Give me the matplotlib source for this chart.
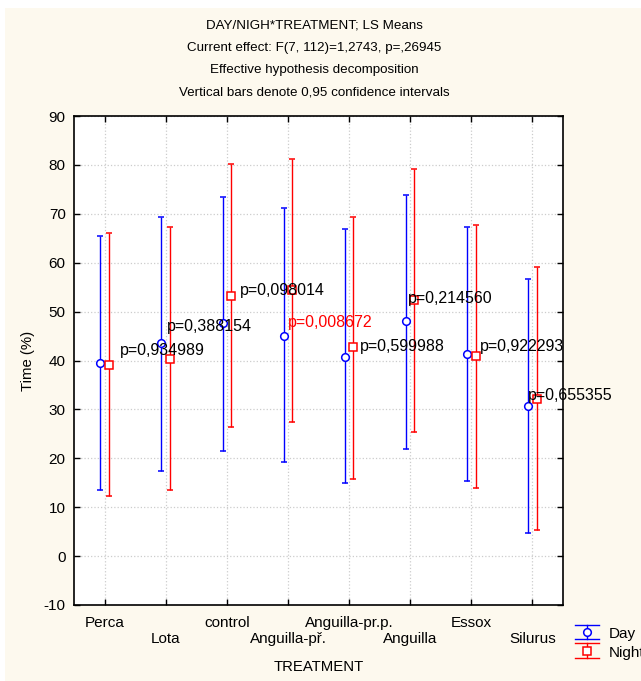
import numpy as np
import matplotlib
matplotlib.use('Agg')
import matplotlib.pyplot as plt
from matplotlib.lines import Line2D
from matplotlib.patches import Rectangle
from matplotlib.legend_handler import HandlerBase

plt.rcParams['font.family'] = ['Liberation Sans', 'DejaVu Sans']
plt.rcParams['axes.unicode_minus'] = False

# LS means and 0.95 confidence limits per treatment
treatments = ['Perca', 'Lota', 'control', 'Anguilla-př.', 'Anguilla-pr.p.',
              'Anguilla', 'Essox', 'Silurus']
day_mean = [39.4, 43.5, 47.6, 45.1, 40.8, 48.1, 41.3, 30.7]
day_low = [13.5, 17.4, 21.5, 19.2, 14.9, 22.0, 15.3, 4.8]
day_high = [65.4, 69.4, 73.5, 71.1, 66.8, 73.9, 67.3, 56.6]
night_mean = [39.1, 40.4, 53.2, 54.4, 42.7, 52.3, 40.9, 32.2]
night_low = [12.3, 13.6, 26.4, 27.5, 15.7, 25.4, 14.0, 5.3]
night_high = [66.0, 67.3, 80.1, 81.2, 69.4, 79.2, 67.8, 59.1]

p_labels = ['p=0,934989', 'p=0,388154', 'p=0,098014', 'p=0,008672',
            'p=0,599988', 'p=0,214560', 'p=0,922293', 'p=0,655355']
p_signif = [False, False, False, True, False, False, False, False]
# where the p labels sit (offset from category, y value)
label_dx = [0.25, 0.02, 0.21, 0.0, 0.17, -0.04, 0.14, -0.08]
label_y = [42.1, 46.9, 54.3, 47.7, 42.8, 52.6, 42.8, 32.8]

cream = '#fdf9ee'
blue = '#0000ff'
red = '#ff0000'

x = np.arange(len(treatments))
dm, dl, dh = np.array(day_mean), np.array(day_low), np.array(day_high)
nm, nl, nh = np.array(night_mean), np.array(night_low), np.array(night_high)

fig = plt.figure(figsize=(6.41, 6.81), dpi=100, facecolor='white')
fig.patches.append(Rectangle((5/641., 0), 1, 1 - 8/681., transform=fig.transFigure,
                             facecolor=cream, edgecolor='none', zorder=-10))

ax = fig.add_axes([74/641., 76/681., 489/641., 489/681.])
ax.set_facecolor('white')

ax.errorbar(x - 0.07, dm, yerr=[dm - dl, dh - dm], fmt='o', color=blue,
            mfc='white', mec=blue, ms=5.5, mew=1.1, elinewidth=1.0,
            capsize=2.2, capthick=1.0, zorder=2)
ax.errorbar(x + 0.07, nm, yerr=[nm - nl, nh - nm], fmt='s', color=red,
            mfc='white', mec=red, ms=5.5, mew=1.1, elinewidth=1.0,
            capsize=2.2, capthick=1.0, zorder=2)

for i in range(len(treatments)):
    ax.text(x[i] + label_dx[i], label_y[i], p_labels[i], fontsize=11.5,
            color=red if p_signif[i] else 'black', ha='left', va='center', zorder=4)

ax.set_xlim(-0.5, len(treatments) - 0.5)
ax.set_ylim(-10, 90)
ax.set_yticks(np.arange(-10, 91, 10))
ax.set_xticks(x)
ax.set_xticklabels([t if i % 2 == 0 else '\n' + t for i, t in enumerate(treatments)])
ax.tick_params(direction='in', top=True, right=True, length=4, width=1,
               labelsize=11, pad=6)
ax.tick_params(axis='x', pad=8)
ax.grid(True, color='#cccccc', linestyle=':', linewidth=0.9)
ax.set_axisbelow(True)
for s in ax.spines.values():
    s.set_linewidth(1.2)

ax.set_xlabel('TREATMENT', fontsize=10.7)
ax.set_ylabel('Time (%)', fontsize=10.7)
ax.xaxis.set_label_coords(0.5, -0.113)
ax.yaxis.set_label_coords(-0.079, 0.5)

fig.text(0.49, 1 - 20/681., 'DAY/NIGH*TREATMENT; LS Means\n'
         'Current effect: F(7, 112)=1,2743, p=,26945\n'
         'Effective hypothesis decomposition\n'
         'Vertical bars denote 0,95 confidence intervals',
         ha='center', va='top', fontsize=9.6, linespacing=2.12,
         transform=fig.transFigure)


class CapHandler(HandlerBase):
    # errorbar-like legend key: wide caps top and bottom, marker in middle
    def create_artists(self, legend, orig, xdescent, ydescent, width, height,
                       fontsize, trans):
        c = orig.get_color()
        y0, y1 = -ydescent - 1, height - ydescent + 2
        xm = width / 2 - xdescent
        arts = [Line2D([-xdescent, width - xdescent], [y1, y1], color=c, lw=1.0),
                Line2D([-xdescent, width - xdescent], [y0, y0], color=c, lw=1.0),
                Line2D([xm, xm], [y0, y1], color=c, lw=1.0),
                Line2D([xm], [(y0 + y1) / 2], marker=orig.get_marker(), color=c,
                       mfc='white', mec=c, ms=5.5, mew=1.1, ls='none')]
        for a in arts:
            a.set_transform(trans)
        return arts


h_day = Line2D([], [], color=blue, marker='o')
h_night = Line2D([], [], color=red, marker='s')
fig.legend([h_day, h_night], ['Day', 'Night'], loc='upper left',
           bbox_to_anchor=(575/641., 1 - 627/681.), frameon=False,
           fontsize=11, handlelength=1.6, handletextpad=0.6, labelspacing=0.3,
           borderpad=0, borderaxespad=0, handler_map={Line2D: CapHandler()})

fig.savefig('out.png', dpi=100, facecolor=fig.get_facecolor())
